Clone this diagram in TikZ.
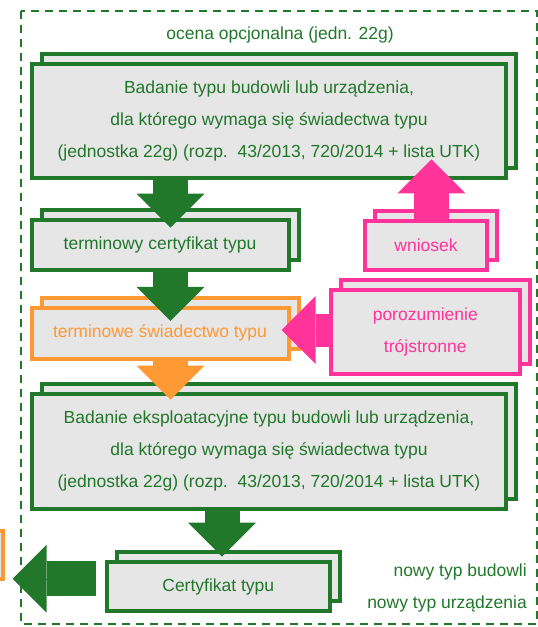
\documentclass[tikz,border=0pt]{standalone}
\usepackage{fontspec}
\setmainfont{Liberation Sans}
\usetikzlibrary{arrows.meta,shadows,calc}
\definecolor{zielony}{RGB}{33,119,42}
\definecolor{pomarancz}{RGB}{255,153,51}
\definecolor{roz}{RGB}{255,51,153}
\definecolor{szary}{RGB}{230,230,230}
\tikzset{
  box/.style={draw=#1, text=#1, fill=szary, line width=4pt, align=center, inner sep=0pt,
    copy shadow={shadow xshift=10pt, shadow yshift=10pt}},
  strzalka/.style={draw=#1, line width=35pt, -{Triangle[width=68pt,length=34pt,line width=0pt,fill=#1]},
    preaction={draw=#1, arrows=-, shorten >=20pt}},
}
\begin{document}
\begin{tikzpicture}[x=1pt,y=-1pt, font=\fontsize{17.5}{32}\selectfont, line join=miter]
	\useasboundingbox (0,0) rectangle (538,627);
	\clip (0,0) rectangle (538,627);
	% ramka
	\draw[zielony, line width=2pt, dash pattern=on 8pt off 6pt] (21,11) rectangle (537,624);
	\node[text=zielony] (tytul) at (280,35) {ocena opcjonalna (jedn. 22g)};
	% bloki
	\node[box=zielony, minimum width=474pt, minimum height=114pt] (badanie) at (269,121) {Badanie typu budowli lub urządzenia,\\dla którego wymaga się świadectwa typu\\(jednostka 22g) (rozp.\ \ 43/2013, 720/2014 + lista UTK)};
	\node[box=zielony, minimum width=257pt, minimum height=50pt] (tercert) at (160,244.5) {terminowy certyfikat typu};
	\node[box=pomarancz, minimum width=257pt, minimum height=51pt] (terswiad) at (160,333.3) {terminowe świadectwo typu};
	\node[box=zielony, minimum width=474pt, minimum height=115pt] (eksploat) at (269,451.2) {Badanie eksploatacyjne typu budowli lub urządzenia,\\dla którego wymaga się świadectwa typu\\(jednostka 22g) (rozp.\ \ 43/2013, 720/2014 + lista UTK)};
	\node[box=zielony, minimum width=223pt, minimum height=49pt] (cert) at (218.3,586.7) {Certyfikat typu};
	\node[box=roz, minimum width=122pt, minimum height=49pt] (wniosek) at (426,245) {wniosek};
	\node[box=roz, minimum width=189pt, minimum height=84pt] (porozum) at (425.3,332.2) {porozumienie\\trójstronne};
	\node[draw=pomarancz, fill=szary, line width=4pt, minimum width=200pt, minimum height=47.4pt] (poprz) at (-97,555) {};
	\node[text=zielony, align=right, anchor=east, inner sep=0pt] (nowy) at (527,587.5) {nowy typ budowli\\nowy typ urządzenia};
	% strzalki
	\draw[strzalka=zielony] ($(badanie.south -| tercert.north)+(10.5,0)$) -- ($(tercert.north)+(10.5,10)$);
	\draw[strzalka=zielony] ($(tercert.south)+(10.5,0)$) -- ($(terswiad.north)+(10.5,15)$);
	\draw[strzalka=pomarancz] ($(terswiad.south)+(10.5,0)$) -- ($(eksploat.north -| terswiad.north)+(10.5,8)$);
	\draw[strzalka=zielony] ($(eksploat.south -| cert.north)+(3.7,0)$) -- ($(cert.north)+(3.7,-3.5)$);
	\draw[strzalka=roz] ($(wniosek.north)+(5.5,0)$) -- ($(badanie.south -| wniosek.north)+(5.5,-20.7)$);
	\draw[strzalka=roz, line width=33pt] ($(porozum.west)+(0,-2.2)$) -- ($(terswiad.east |- porozum.west)+(-8.8,-2.2)$);
	\draw[strzalka=zielony] ($(cert.west)+(-9,-8)$) -- ($(poprz.east |- cert.west)+(7.7,-8)$);
\end{tikzpicture}
\end{document}
